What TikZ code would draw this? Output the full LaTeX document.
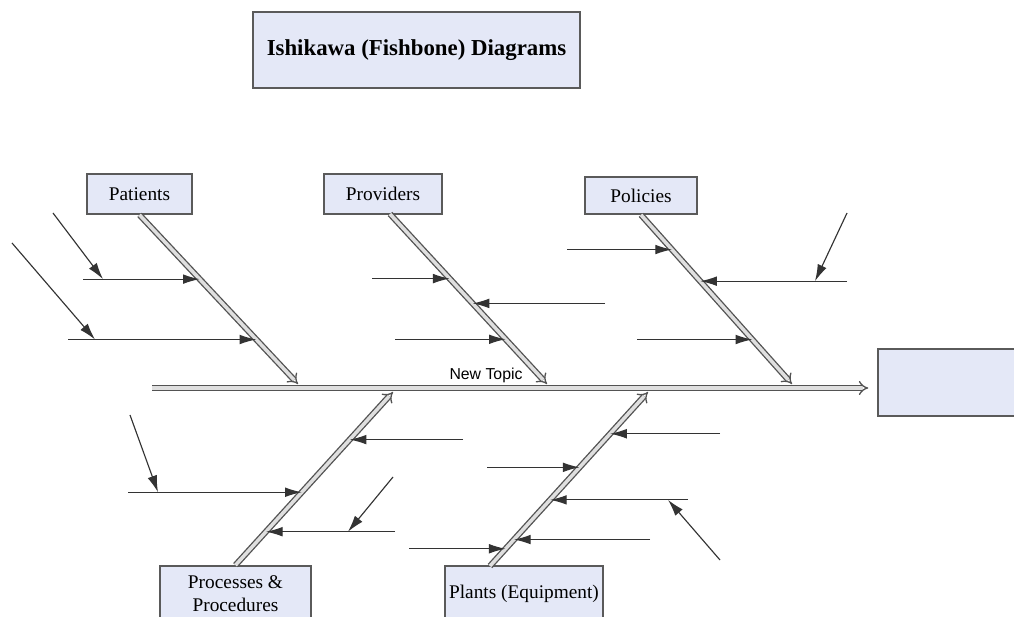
\documentclass[tikz,border=0pt]{standalone}
\usepackage{fontspec}
\setmainfont{Liberation Serif}
\setsansfont{Liberation Sans}
\usetikzlibrary{arrows.meta}
\definecolor{boxfill}{HTML}{E4E8F7}
\definecolor{boxline}{HTML}{5A5A5A}
\tikzset{
  catbox/.style={draw=boxline, fill=boxfill, line width=1pt, inner sep=2pt,
    font=\fontsize{11}{13}\selectfont, minimum height=0.8cm, align=center},
  bone/.style={draw=gray!65!black, double=gray!25, line width=0.75pt,
    double distance=2pt, -{Implies}},
  cause/.style={draw=black!80, line width=0.65pt, -{Latex[length=9.5pt,width=5.5pt]}},
}

\begin{document}
\begin{tikzpicture}[x=0.02cm,y=-0.02cm]
    \useasboundingbox (0,0) rectangle (1014,617);

    % title and boxes
    \node[catbox, line width=1.3pt, minimum width=6.54cm, minimum height=1.52cm,
          font=\fontsize{13}{15}\selectfont\bfseries] (title) at (416.5,50) {Ishikawa (Fishbone) Diagrams};
    \node[catbox, minimum width=2.1cm]  (patients)  at (139.5,194) {Patients};
    \node[catbox, minimum width=2.36cm] (providers) at (383,194)   {Providers};
    \node[catbox, minimum width=2.24cm, minimum height=0.74cm] (policies) at (641,195.5) {Policies};
    \node[catbox, minimum width=3.02cm, minimum height=1.12cm] (processes) at (235.5,594) {Processes \&\\Procedures};
    \node[catbox, minimum width=3.16cm, minimum height=1.12cm] (plants) at (524,594) {Plants (Equipment)};
    \node[catbox, minimum width=3.04cm, minimum height=1.34cm] (effect) at (954,382.5) {};

    % spine
    \coordinate (tail) at (152,388);
    \draw[bone, shorten >=5] (tail) -- (effect.west |- tail);
    \node[font=\sffamily\fontsize{9}{11}\selectfont] (topic) at (486,375) {New Topic};

    % bones
    \coordinate (pat-s) at (patients.south);  \coordinate (pat-e) at (298,384);
    \coordinate (pro-s) at (390,214);         \coordinate (pro-e) at (547,384);
    \coordinate (pol-s) at (policies.south);  \coordinate (pol-e) at (792,384);
    \coordinate (prc-s) at (processes.north); \coordinate (prc-e) at (393,392);
    \coordinate (pla-s) at (490,566);         \coordinate (pla-e) at (648,392);
    \foreach \b in {pat,pro,pol,prc,pla}
        \draw[bone] (\b-s) -- (\b-e);

    % causes
    \foreach \b/\f/\x/\n in {pat/0.38/83/c1, pat/0.737/68/c2,
                             pro/0.38/372/c3, pro/0.526/605/c4, pro/0.737/395/c5,
                             pol/0.205/567/c6, pol/0.392/847/c7, pol/0.737/637/c8,
                             prc/0.725/463/c9, prc/0.421/128/c10, prc/0.193/395/c11,
                             pla/0.760/720/c12, pla/0.567/487/c13, pla/0.380/688/c14,
                             pla/0.152/650/c15, pla/0.099/409/c16} {
        \path (\b-s) -- (\b-e) coordinate[pos=\f] (\n);
        \draw[cause] (\n -| \x,0) -- (\n);
    }

    % sub-causes
    \draw[cause] (53,213) -- (c1 -| 103,0);
    \draw[cause] (12,243) -- (c2 -| 95,0);
    \draw[cause] (847,213) -- (c7 -| 815,0);
    \draw[cause] (130,415) -- (c10 -| 158,0);
    \draw[cause] (393,477) -- (c11 -| 348,0);
    \draw[cause] (720,560) -- (c14 -| 668,0);
\end{tikzpicture}
\end{document}
